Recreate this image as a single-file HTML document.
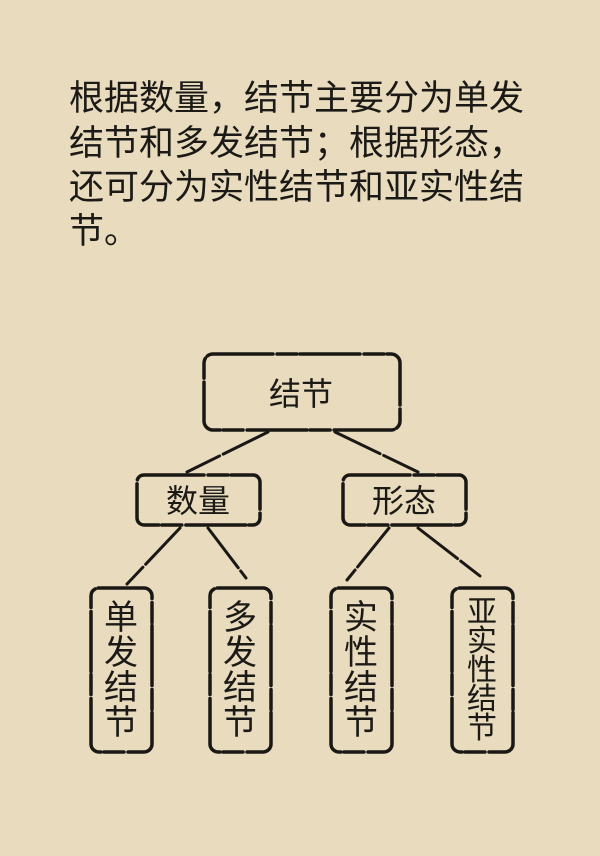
<!DOCTYPE html>
<html><head><meta charset="utf-8"><style>
html,body{margin:0;padding:0}
body{width:600px;height:856px;background:#e8dbbe;position:relative;overflow:hidden;font-family:"Liberation Sans","Noto Sans CJK SC",sans-serif;color:#1c1a16}
.l{position:absolute;left:69px;font-size:35px;line-height:35px;white-space:nowrap}
</style></head><body>
<div class="l" style="top:81px">根据数量，结节主要分为单发</div>
<div class="l" style="top:126px">结节和多发结节；根据形态，</div>
<div class="l" style="top:170px">还可分为实性结节和亚实性结</div>
<div class="l" style="top:214px">节。</div>
<svg width="600" height="856" style="position:absolute;left:0;top:0" xmlns="http://www.w3.org/2000/svg">
<g fill="none" stroke="#1a1814" stroke-width="3.5" stroke-linecap="round" stroke-dasharray="60 4 20 3">
<rect x="204" y="354" width="196" height="76" rx="9"/>
<rect x="137" y="475" width="123" height="50" rx="7"/>
<rect x="343" y="475" width="123" height="50" rx="7"/>
<rect x="91" y="588" width="61" height="164" rx="8"/>
<rect x="210" y="588" width="61" height="164" rx="8"/>
<rect x="331" y="588" width="61" height="164" rx="8"/>
<rect x="452" y="588" width="61" height="164" rx="8"/>
</g>
<g stroke="#1a1814" stroke-width="3" stroke-linecap="round" stroke-dasharray="50 4">
<line x1="268" y1="432" x2="187" y2="472"/>
<line x1="335" y1="432" x2="418" y2="472"/>
<line x1="180" y1="528" x2="127" y2="584"/>
<line x1="208" y1="528" x2="246" y2="578"/>
<line x1="389" y1="528" x2="347" y2="580"/>
<line x1="418" y1="528" x2="480" y2="576"/>
</g>
<g font-family="Liberation Sans, Noto Sans CJK SC, sans-serif" fill="#1c1a16" text-anchor="middle">
<text x="301" y="405" font-size="32">结节</text>
<text x="198" y="512" font-size="32">数量</text>
<text x="404" y="512" font-size="32">形态</text>
<g font-size="34">
<text x="121" y="629">单</text><text x="121" y="664">发</text><text x="121" y="699">结</text><text x="121" y="734">节</text>
<text x="240" y="629">多</text><text x="240" y="664">发</text><text x="240" y="699">结</text><text x="240" y="734">节</text>
<text x="361" y="629">实</text><text x="361" y="664">性</text><text x="361" y="699">结</text><text x="361" y="734">节</text>
</g>
<g font-size="30">
<text x="482" y="622">亚</text><text x="482" y="651">实</text><text x="482" y="680">性</text><text x="482" y="709">结</text><text x="482" y="738">节</text>
</g>
</g>
</svg>
</body></html>
